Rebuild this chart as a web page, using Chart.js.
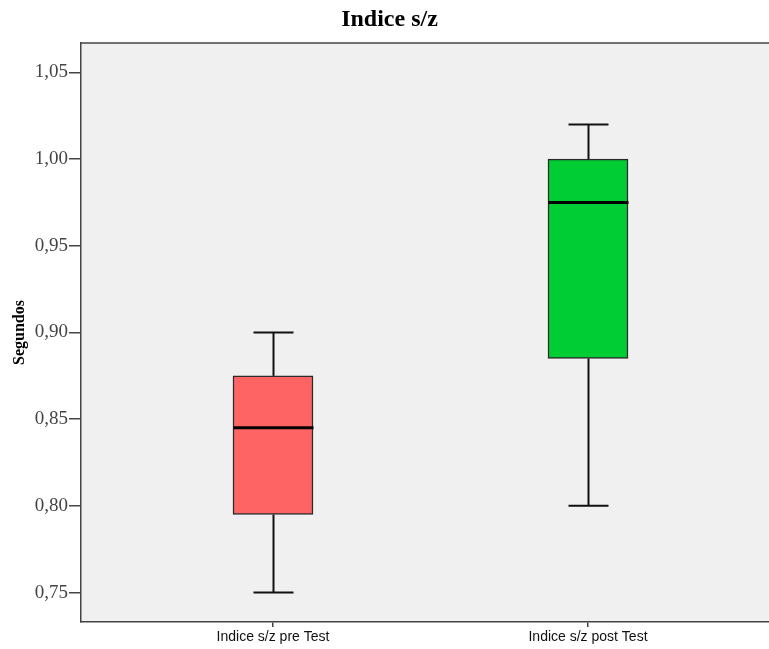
<!DOCTYPE html>
<html>
<head>
<meta charset="utf-8">
<script src="https://cdn.jsdelivr.net/npm/chart.js@4/dist/chart.umd.min.js"></script>
<style>
html,body{margin:0;padding:0;background:#ffffff;}
#wrap{width:769px;height:649px;}
</style>
</head>
<body>
<div id="wrap"><canvas id="c" width="769" height="649"></canvas></div>
<script>
// ---- data ----
const categories = ["Indice s/z pre Test", "Indice s/z post Test"];
const whiskerLow  = [0.750, 0.800];
const q1          = [0.795, 0.885];
const median      = [0.845, 0.975];
const q3          = [0.875, 1.000];
const whiskerHigh = [0.900, 1.020];
const yTicks = [0.75, 0.80, 0.85, 0.90, 0.95, 1.00, 1.05];
const boxColors = ["#ff6464", "#00cc33"];

const boxData = categories.map((c, i) => ({ x: i + 1, y: [q1[i], q3[i]] }));

const boxPlotPlugin = {
  id: 'boxWhiskers',
  afterDatasetsDraw(chart) {
    const ctx = chart.ctx;
    const xs = chart.scales.x, ys = chart.scales.y;
    ctx.save();
    categories.forEach((c, i) => {
      const cx = Math.round(xs.getPixelForValue(i + 1)) + 0.5;
      const capHalf = 20;
      const boxHalf = 40;
      ctx.strokeStyle = '#111111';
      ctx.lineWidth = 2;
      let yTop = ys.getPixelForValue(whiskerHigh[i]);
      let yQ3 = ys.getPixelForValue(q3[i]);
      ctx.beginPath(); ctx.moveTo(cx, yQ3); ctx.lineTo(cx, yTop); ctx.stroke();
      ctx.beginPath(); ctx.moveTo(cx - capHalf, yTop); ctx.lineTo(cx + capHalf, yTop); ctx.stroke();
      let yBot = ys.getPixelForValue(whiskerLow[i]);
      let yQ1 = ys.getPixelForValue(q1[i]);
      ctx.beginPath(); ctx.moveTo(cx, yQ1); ctx.lineTo(cx, yBot); ctx.stroke();
      ctx.beginPath(); ctx.moveTo(cx - capHalf, yBot); ctx.lineTo(cx + capHalf, yBot); ctx.stroke();
      const yMed = ys.getPixelForValue(median[i]);
      ctx.lineWidth = 3;
      ctx.strokeStyle = '#000000';
      ctx.beginPath(); ctx.moveTo(cx - boxHalf, yMed); ctx.lineTo(cx + boxHalf, yMed); ctx.stroke();
    });
    ctx.restore();
  }
};

const bgPlugin = {
  id: 'plotBg',
  beforeDraw(chart) {
    const a = chart.chartArea, ctx = chart.ctx;
    ctx.save();
    ctx.fillStyle = '#f0f0f0';
    ctx.fillRect(a.left, a.top, a.right - a.left, a.bottom - a.top);
    ctx.strokeStyle = '#444444';
    ctx.lineWidth = 1.5;
    ctx.beginPath(); ctx.moveTo(a.left, a.top); ctx.lineTo(a.right, a.top); ctx.stroke();
    ctx.restore();
  }
};

new Chart(document.getElementById('c'), {
  type: 'bar',
  data: {
    datasets: [{
      data: boxData,
      backgroundColor: boxColors,
      borderColor: '#2a2a2a',
      borderWidth: 1.5,
      borderSkipped: false,
      barThickness: 80
    }]
  },
  options: {
    responsive: false,
    animation: false,
    layout: { padding: { left: 10, right: 0, top: 0, bottom: 0 } },
    plugins: {
      legend: { display: false },
      tooltip: { enabled: false },
      title: {
        display: true,
        text: 'Indice s/z',
        color: '#000000',
        font: { family: 'Liberation Serif', size: 24, weight: 'bold', lineHeight: 1.0 },
        padding: { top: 8, bottom: 11 }
      }
    },
    scales: {
      x: {
        type: 'linear',
        offset: false,
        min: 0.3905,
        max: 2.5746,
        afterBuildTicks(scale) { scale.ticks = categories.map((c, i) => ({ value: i + 1 })); },
        afterFit(scale) { scale.height = 27; },
        ticks: {
          callback: (v) => categories[v - 1] || '',
          color: '#111111',
          font: { family: 'Liberation Sans', size: 14 },
          padding: 2,
          maxRotation: 0,
          autoSkip: false
        },
        grid: { display: true, offset: false, drawOnChartArea: false, tickLength: 5, color: '#444444', lineWidth: 1.5 },
        border: { display: true, color: '#444444', width: 1.5 }
      },
      y: {
        type: 'linear',
        min: 0.733,
        max: 1.067,
        afterBuildTicks(scale) { scale.ticks = yTicks.map(v => ({ value: v })); },
        afterFit(scale) { scale.width = 71; },
        ticks: {
          callback: (v) => v.toFixed(2).replace('.', ','),
          color: '#444444',
          font: { family: 'Liberation Serif', size: 19 },
          padding: 1
        },
        grid: { display: true, drawOnChartArea: false, tickLength: 12, color: '#444444', lineWidth: 1.5 },
        border: { display: true, color: '#444444', width: 1.5 },
        title: {
          display: true,
          text: 'Segundos',
          color: '#000000',
          font: { family: 'Liberation Serif', size: 16, weight: 'bold' },
          padding: { top: 0, bottom: 0 }
        }
      }
    }
  },
  plugins: [bgPlugin, boxPlotPlugin]
});
</script>
</body>
</html>
